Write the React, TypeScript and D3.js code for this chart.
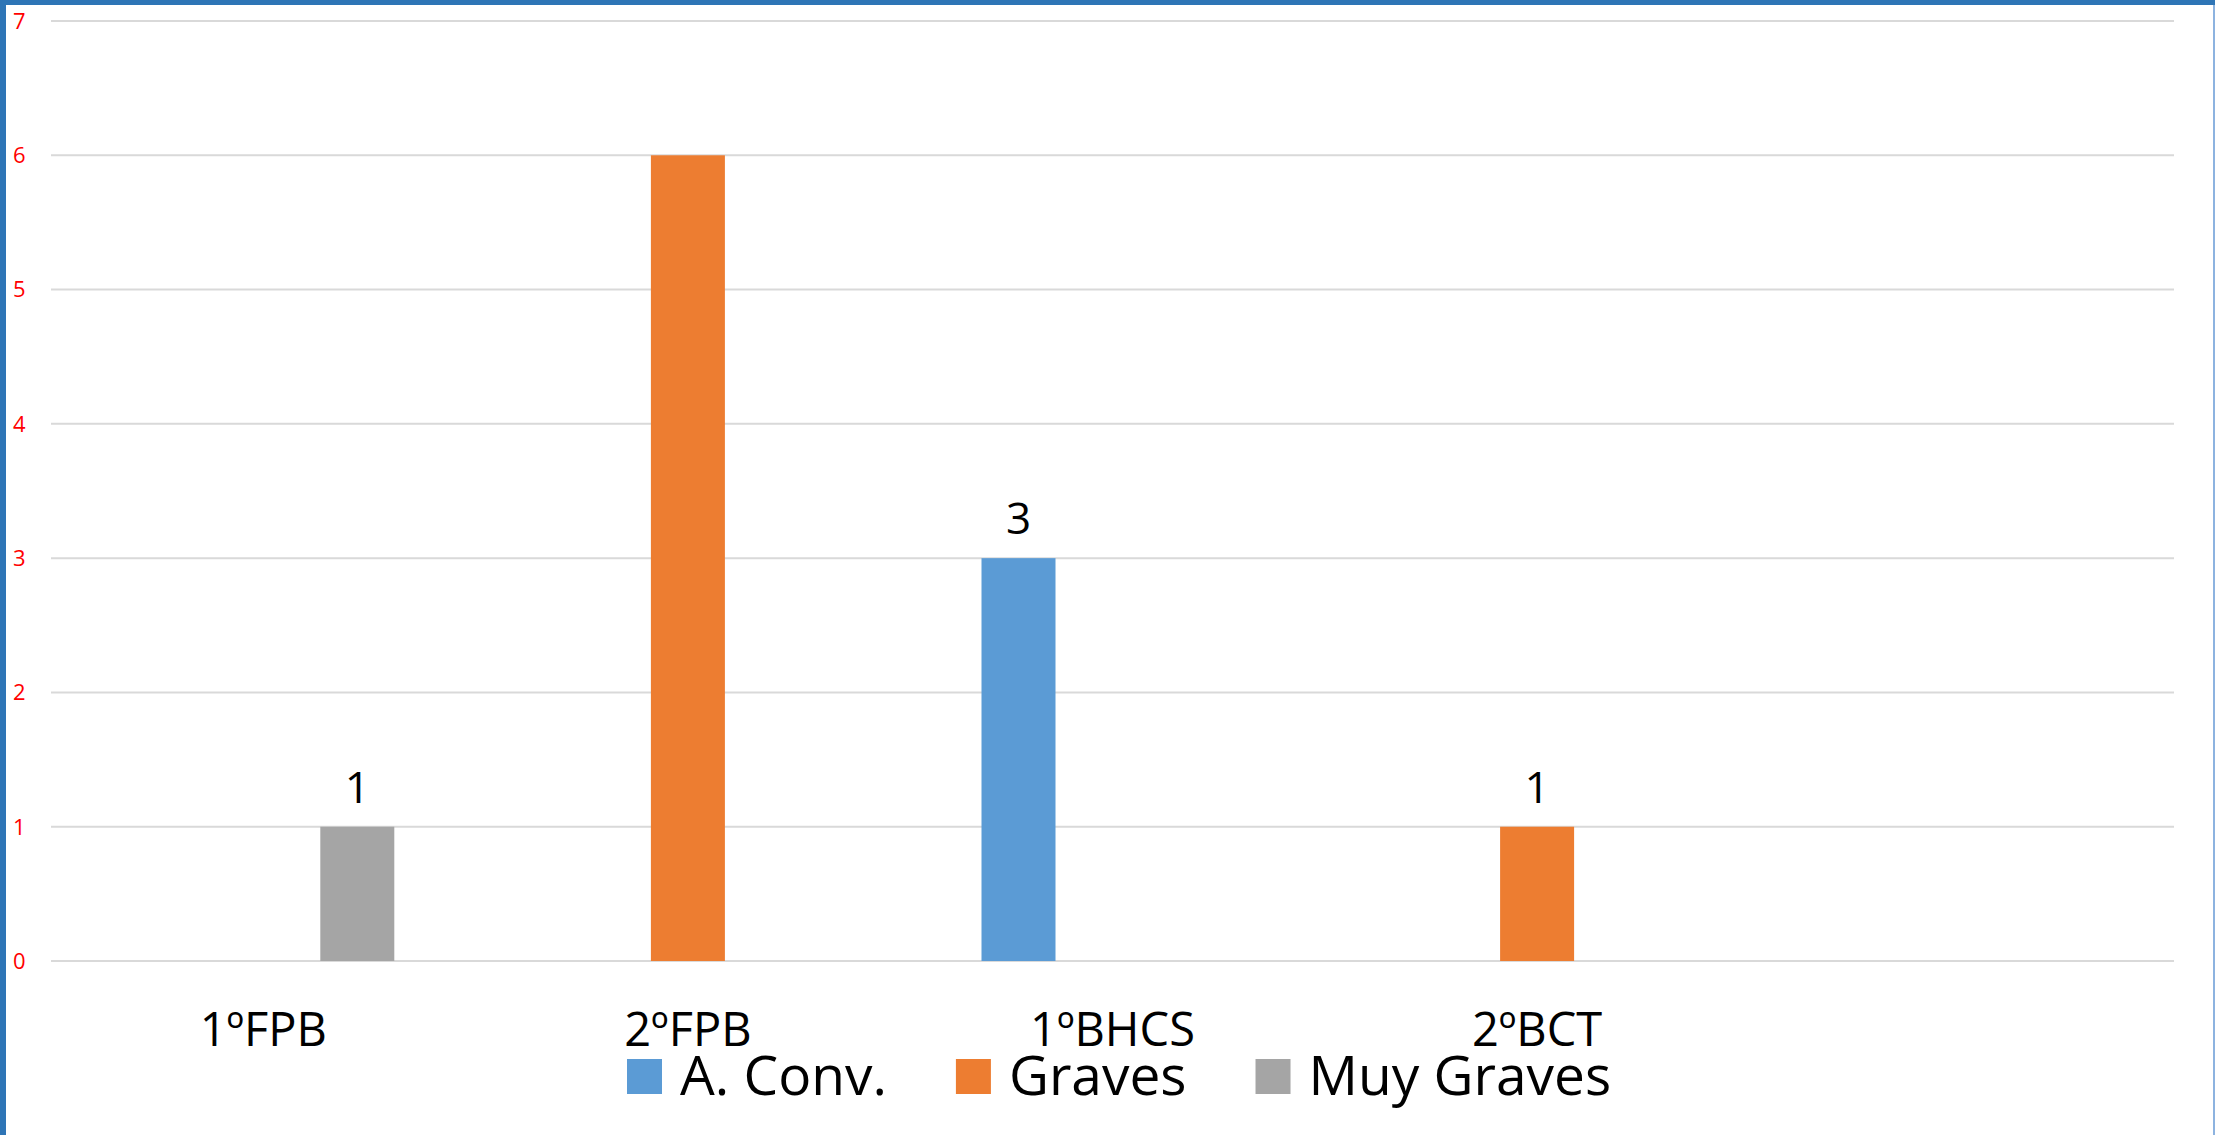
import React, { useEffect, useRef } from "react";
import * as d3 from "d3";

const categories = ["1ºFPB", "2ºFPB", "1ºBHCS", "2ºBCT", ""];
const seriesNames = ["A. Conv.", "Graves", "Muy Graves"];
const aConv = [0, 0, 3, 0, 0];
const graves = [0, 6, 0, 1, 0];
const muyGraves = [1, 0, 0, 0, 0];
const aConvLabels = [false, false, true, false, false];
const gravesLabels = [false, false, false, true, false];
const muyGravesLabels = [true, false, false, false, false];
const seriesColors = ["#5B9BD5", "#ED7D31", "#A5A5A5"];
const yTicks = [0, 1, 2, 3, 4, 5, 6, 7];

const W = 2215;
const H = 1135;
const FONT = "'Open Sans', 'Noto Sans', sans-serif";

export default function App() {
  const ref = useRef<SVGSVGElement | null>(null);

  useEffect(() => {
    const svg = d3.select(ref.current);
    svg.selectAll("*").remove();

    // frame
    svg.append("rect").attr("x", 0).attr("y", 0).attr("width", W).attr("height", H).attr("fill", "#fff");
    svg.append("rect").attr("x", 0).attr("y", 0).attr("width", W).attr("height", 5).attr("fill", "#2E75B6");
    svg.append("rect").attr("x", 0).attr("y", 0).attr("width", 6).attr("height", H).attr("fill", "#2E75B6");
    svg.append("rect").attr("x", W - 2).attr("y", 5).attr("width", 2).attr("height", H).attr("fill", "#8DB3E0");

    const left = 51, right = 2174, top = 21, bottom = 961;
    const x0 = d3.scaleBand<string>().domain(categories.map((c, i) => String(i))).range([left, right]).padding(0);
    const y = d3.scaleLinear().domain([0, 7]).range([bottom, top]);
    const clusterW = x0.bandwidth() * (262 / 424.6);
    const x1 = d3.scaleBand<string>().domain(seriesNames).range([0, clusterW]).paddingInner(20 / 94).paddingOuter(0);

    // grid
    svg.append("g").selectAll("line").data(yTicks).join("line")
      .attr("x1", left).attr("x2", right)
      .attr("y1", (d) => y(d)).attr("y2", (d) => y(d))
      .attr("stroke", "#D9D9D9").attr("stroke-width", 2);

    // y tick labels
    svg.append("g").selectAll("text").data(yTicks).join("text")
      .attr("x", 13).attr("y", (d) => y(d)).attr("dy", "0.36em")
      .attr("fill", "#FF0000").attr("font-family", FONT).attr("font-size", 22)
      .text((d) => String(d));

    const seriesData = [aConv, graves, muyGraves];
    const seriesLabels = [aConvLabels, gravesLabels, muyGravesLabels];

    seriesNames.forEach((s, si) => {
      const g = svg.append("g");
      const items = categories.map((c, i) => ({ i, v: seriesData[si][i], lab: seriesLabels[si][i] }));
      const bx = (i: number) => (x0(String(i)) as number) + x0.bandwidth() / 2 - clusterW / 2 + (x1(s) as number);
      g.selectAll("rect").data(items.filter((d) => d.v > 0)).join("rect")
        .attr("x", (d) => bx(d.i))
        .attr("y", (d) => y(d.v))
        .attr("width", x1.bandwidth())
        .attr("height", (d) => y(0) - y(d.v))
        .attr("fill", seriesColors[si]);
      g.selectAll("text").data(items.filter((d) => d.lab)).join("text")
        .attr("x", (d) => bx(d.i) + x1.bandwidth() / 2)
        .attr("y", (d) => y(d.v) - 24)
        .attr("text-anchor", "middle")
        .attr("font-family", FONT).attr("font-size", 44).attr("fill", "#000")
        .text((d) => String(d.v));
    });

    // category labels
    svg.append("g").selectAll("text").data(categories.map((c, i) => ({ c, i }))).join("text")
      .attr("x", (d) => (x0(String(d.i)) as number) + x0.bandwidth() / 2)
      .attr("y", 1046)
      .attr("text-anchor", "middle")
      .attr("font-family", FONT).attr("font-size", 47).attr("fill", "#000")
      .text((d) => d.c);

    // legend
    const lg = svg.append("g");
    let lx = 627;
    const sw = 35;
    seriesNames.forEach((s, si) => {
      lg.append("rect").attr("x", lx).attr("y", 1059).attr("width", sw).attr("height", sw).attr("fill", seriesColors[si]);
      const t = lg.append("text").attr("x", lx + sw + 18).attr("y", 1095)
        .attr("font-family", FONT).attr("font-size", 55).attr("fill", "#000").text(s);
      const tw = (t.node() as SVGTextElement).getComputedTextLength();
      lx = lx + sw + 18 + tw + 69;
    });
  }, []);

  return (
    <svg ref={ref} width={W} height={H} style={{ position: "absolute", left: 0, top: 0, display: "block" }} />
  );
}
